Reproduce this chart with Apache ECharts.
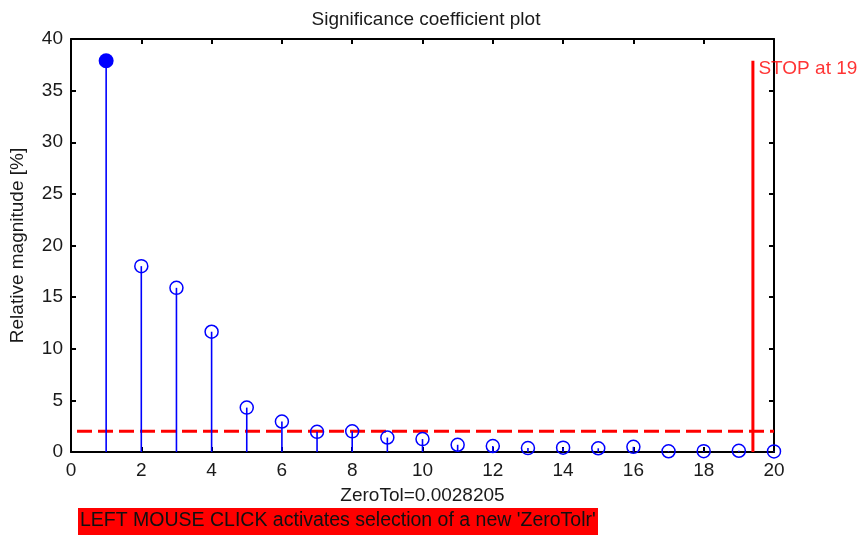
<!DOCTYPE html>
<html>
<head>
<meta charset="utf-8">
<script src="https://cdn.jsdelivr.net/npm/echarts@6/dist/echarts.min.js"></script>
<style>html,body{margin:0;padding:0;background:#fff}#c{width:863px;height:536px}</style>
</head>
<body>
<div id="c"></div>
<script>
// Data
const indices = [1,2,3,4,5,6,7,8,9,10,11,12,13,14,15,16,17,18,19,20];
const magnitudes = [37.9,18.0,15.9,11.65,4.3,2.95,1.95,2.0,1.4,1.25,0.7,0.58,0.38,0.42,0.36,0.5,0.07,0.08,0.12,0.06];
const zeroTolLevel = 2.0;
const stopX = 19.4;
const stopTop = 37.9;
const xTicks = {min:0, max:20, interval:2};
const yTicks = {min:0, max:40, interval:5};
const titleText = 'Significance coefficient plot';
const xName = 'ZeroTol=0.0028205';
const yName = 'Relative magnitude [%]';
const stopLabel = 'STOP at 19';
const clickText = "LEFT MOUSE CLICK activates selection of a new 'ZeroTolr'";

const FONT = 'Liberation Sans, Arial, sans-serif';
const TXT = '#1a1a1a';
const chart = echarts.init(document.getElementById('c'), null, {renderer:'canvas'});

const axisCommon = {
  axisLine:{show:true, onZero:false, lineStyle:{color:'#000', width:2}},
  axisTick:{show:true, inside:true, length:5, lineStyle:{color:'#000', width:2}},
  splitLine:{show:false}
};

const stemData = indices.map((x,i)=>[x, magnitudes[i]]);

chart.setOption({
  animation:false,
  backgroundColor:'#fff',
  title:{text:titleText, left:421, top:5, textAlign:'center',
    textStyle:{fontFamily:FONT, fontSize:19, fontWeight:'normal', color:TXT}},
  grid:{left:70, right:89, top:39, bottom:84},
  xAxis:[
    Object.assign({type:'value', position:'bottom', min:xTicks.min, max:xTicks.max, interval:xTicks.interval,
      name:xName, nameLocation:'middle', nameGap:34,
      nameTextStyle:{fontFamily:FONT, fontSize:19, color:TXT},
      axisLabel:{fontFamily:FONT, fontSize:19, color:TXT, margin:9}}, axisCommon),
    Object.assign({type:'value', position:'top', min:xTicks.min, max:xTicks.max, interval:xTicks.interval,
      axisLabel:{show:false}}, axisCommon)
  ],
  yAxis:[
    Object.assign({type:'value', position:'left', min:yTicks.min, max:yTicks.max, interval:yTicks.interval,
      name:yName, nameLocation:'middle', nameGap:44,
      nameTextStyle:{fontFamily:FONT, fontSize:19, color:TXT},
      axisLabel:{fontFamily:FONT, fontSize:19, color:TXT, margin:8}}, axisCommon),
    Object.assign({type:'value', position:'right', min:yTicks.min, max:yTicks.max, interval:yTicks.interval,
      axisLabel:{show:false}}, axisCommon)
  ],
  series:[
    {
      type:'custom', xAxisIndex:0, yAxisIndex:0, data:stemData, z:3,
      renderItem:function(params, api){
        const p0 = api.coord([api.value(0), 0]);
        const p1 = api.coord([api.value(0), api.value(1)]);
        return {type:'line', shape:{x1:p0[0], y1:p0[1], x2:p1[0], y2:p1[1]},
          style:{stroke:'#0000ff', lineWidth:1.6}};
      }
    },
    {
      type:'line', xAxisIndex:0, yAxisIndex:0, z:2,
      data:[[xTicks.min, zeroTolLevel],[xTicks.max, zeroTolLevel]],
      symbol:'none', lineStyle:{color:'#ff0000', width:3, type:[15,6], dashOffset:15}
    },
    {
      type:'line', xAxisIndex:0, yAxisIndex:0, z:2,
      data:[[stopX,0],[stopX,stopTop]],
      symbol:'none', lineStyle:{color:'#ff0000', width:3}
    },
    {
      type:'scatter', xAxisIndex:0, yAxisIndex:0, z:5, silent:true,
      data:[[stopX, stopTop]], symbolSize:1, itemStyle:{color:'rgba(0,0,0,0)'},
      label:{show:true, formatter:stopLabel, position:'right', distance:5, offset:[0,8],
        fontFamily:FONT, fontSize:19, color:'#ff0000'}
    },
    {
      type:'scatter', xAxisIndex:0, yAxisIndex:0, z:4,
      data:stemData.map((d,i)=> i===0 ? {value:d, symbolSize:15, itemStyle:{color:'#0000ff', borderWidth:0, opacity:1}} : d),
      symbol:'circle', symbolSize:13,
      itemStyle:{color:'rgba(0,0,0,0)', borderColor:'#0000ff', borderWidth:1.5, opacity:1}
    }
  ],
  graphic:[
    {type:'rect', left:78, top:508, shape:{width:520, height:27}, style:{fill:'#ff0000'}},
    {type:'text', left:80, top:511, style:{text:clickText, fontFamily:FONT, fontSize:19.5, fill:'#111'}}
  ]
});
</script>
</body>
</html>
